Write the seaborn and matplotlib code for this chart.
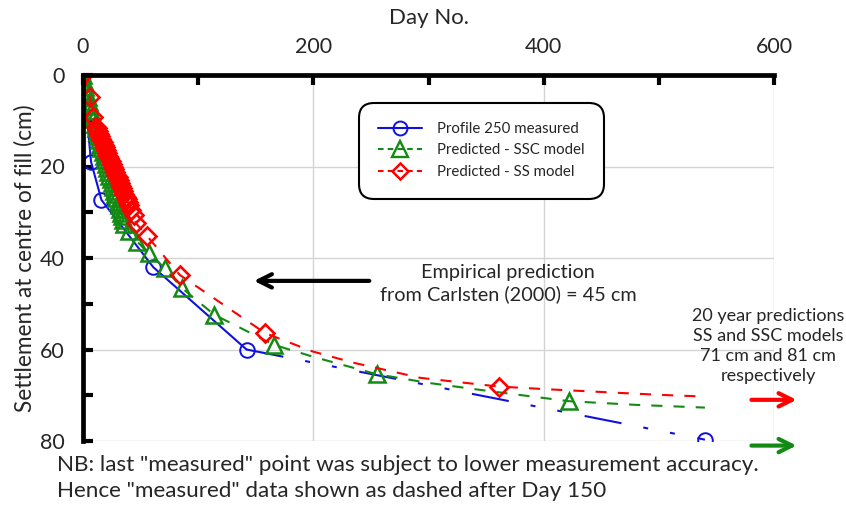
import matplotlib
matplotlib.use("Agg")
import matplotlib.pyplot as plt
from matplotlib.lines import Line2D
import seaborn as sns

# ---------------- data ----------------
meas_day = [0, 7, 16, 61, 142, 540]
meas_cm = [0.0, 19.0, 27.3, 42.0, 60.0, 79.7]

# SSC model: points drawn with triangles
ssc_mark_day = [0, 1, 2, 3, 4, 5, 6, 7, 8, 9, 10, 11, 12, 13, 14, 15, 16, 17, 18,
                19, 20, 21, 22, 23, 24, 25, 26, 27, 28, 29, 30, 31, 32, 33, 34, 35, 36,
                40, 47, 57, 71, 86, 114, 166, 255, 422]
ssc_mark_cm = [0.0, 1.4, 2.6, 3.7, 4.8, 5.8, 6.8, 7.8, 8.8, 9.7, 10.7, 11.6, 12.5, 13.4,
               14.3, 15.2, 16.0, 16.9, 17.7, 18.6, 19.4, 20.3, 21.1, 22.0, 22.8, 23.6,
               24.4, 25.3, 26.1, 26.9, 27.7, 28.5, 29.3, 30.1, 30.9, 31.7, 32.5,
               34.2, 36.4, 39.0, 42.2, 46.6, 52.4, 59.0, 65.4, 71.3]
# SSC model: further curve points without markers
ssc_tail_day = [200, 300, 350, 480, 540]
ssc_tail_cm = [61.6, 67.3, 69.0, 72.1, 72.7]

# SS model: points drawn with diamonds
ss_mark_day = [0, 6, 9, 11.5, 12, 13, 14, 15, 16, 17, 18, 19, 20, 21, 22, 23, 24, 25,
               26, 27, 28, 29, 30, 31, 32, 33, 34, 35, 36, 37, 38, 39, 40, 42, 44,
               46, 56, 84, 158, 361]
ss_mark_cm = [0.0, 4.8, 9.2, 11.3, 11.6, 12.2, 12.8, 13.4, 14.0, 14.6, 15.2, 15.8, 16.4,
              17.0, 17.6, 18.2, 18.8, 19.4, 20.0, 20.6, 21.2, 21.8, 22.4, 23.0, 23.6,
              24.2, 24.8, 25.4, 26.0, 26.6, 27.2, 27.8, 28.4, 29.5, 30.6,
              32.4, 35.3, 43.7, 56.4, 68.1]
ss_tail_day = [199, 235, 293, 325, 404, 459, 500, 540]
ss_tail_cm = [60.4, 62.9, 66.2, 67.1, 68.7, 69.4, 69.9, 70.3]

legend_labels = ["Profile 250 measured", "Predicted - SSC model", "Predicted - SS model"]
x_ticks = [0, 200, 400, 600]
y_ticks = [0, 20, 40, 60, 80]

BLUE = "#1010e0"
GREEN = "#138a13"
RED = "#ff0000"

# ---------------- style ----------------
sns.set_theme(style="white")
plt.rcParams["font.family"] = ["Lato", "DejaVu Sans"]
plt.rcParams["lines.scale_dashes"] = False

W, H = 846, 509
fig = plt.figure(figsize=(W / 100, H / 100), dpi=100)
ax = fig.add_axes([83 / W, 1 - 441 / H, (774 - 83) / W, (441 - 75) / H])

LW = 1.5
SSC_DASH = (0, (8, 8))
SS_DASH = (0, (8, 8))
MEAS_DASH = (0, (27, 16, 3.6, 16, 3.6, 16.5))

# measured: solid to day 142, then long-dash / dot pattern
sns.lineplot(x=meas_day[:5], y=meas_cm[:5], ax=ax, color=BLUE, linewidth=LW,
             linestyle="-", sort=False, estimator=None, zorder=3)
sns.lineplot(x=meas_day[4:], y=meas_cm[4:], ax=ax, color=BLUE, linewidth=LW,
             linestyle=MEAS_DASH, sort=False, estimator=None, zorder=3)
sns.lineplot(x=meas_day, y=meas_cm, ax=ax, color=BLUE, linestyle="", marker="o",
             markersize=10.5, markerfacecolor="none", markeredgecolor=BLUE,
             markeredgewidth=1.4, sort=False, estimator=None, zorder=3)

# SSC
ssc_line_day = ssc_mark_day + ssc_tail_day
ssc_line_cm = ssc_mark_cm + ssc_tail_cm
sns.lineplot(x=ssc_line_day, y=ssc_line_cm, ax=ax, color=GREEN, linewidth=LW,
             linestyle=SSC_DASH, sort=True, estimator=None, zorder=4)
sns.lineplot(x=ssc_mark_day, y=ssc_mark_cm, ax=ax, color=GREEN, linestyle="",
             marker="^", markersize=12, markerfacecolor="none",
             markeredgecolor=GREEN, markeredgewidth=1.8, sort=False,
             estimator=None, zorder=4)

# SS
ss_line_day = ss_mark_day + ss_tail_day
ss_line_cm = ss_mark_cm + ss_tail_cm
sns.lineplot(x=ss_line_day, y=ss_line_cm, ax=ax, color=RED, linewidth=LW,
             linestyle=SS_DASH, sort=True, estimator=None, zorder=5)
sns.lineplot(x=ss_mark_day, y=ss_mark_cm, ax=ax, color=RED, linestyle="",
             marker="D", markersize=9.5, markerfacecolor="none",
             markeredgecolor=RED, markeredgewidth=1.9, sort=False,
             estimator=None, zorder=5)

# ---------------- axes ----------------
ax.set_xlim(0, 600)
ax.set_ylim(80, 0)
ax.xaxis.set_ticks_position("top")
ax.xaxis.set_label_position("top")
ax.set_xticks(x_ticks)
ax.set_xticks([100, 300, 500], minor=True)
ax.set_yticks(y_ticks)
ax.set_yticks([10, 30, 50, 70], minor=True)
ax.set_xticklabels([str(v) for v in x_ticks])
ax.set_yticklabels([str(v) for v in y_ticks])
ax.tick_params(axis="x", which="both", direction="in", length=7, width=3,
               color="black", labelsize=15.5, pad=13, top=True, bottom=False)
ax.tick_params(axis="y", which="both", direction="in", length=7, width=3,
               color="black", labelsize=15.5, pad=13, left=True, right=False)
ax.set_xlabel("Day No.", fontsize=16, labelpad=9)
ax.set_ylabel("Settlement at centre of fill (cm)", fontsize=16.3, labelpad=3)

ax.grid(True, which="major", color="#d4d4d4", linewidth=1.0)
ax.set_axisbelow(True)
for side in ["right", "bottom"]:
    ax.spines[side].set_visible(False)
for side in ["left", "top"]:
    ax.spines[side].set_visible(True)
    ax.spines[side].set_color("black")
    ax.spines[side].set_linewidth(3.4)
    ax.spines[side].set_zorder(6)

# ---------------- legend ----------------
handles = [
    Line2D([], [], color=BLUE, lw=LW, marker="o", markersize=10,
           markerfacecolor="none", markeredgecolor=BLUE, markeredgewidth=1.4),
    Line2D([], [], color=GREEN, lw=LW, linestyle=(0, (4, 3)), marker="^", markersize=11,
           markerfacecolor="none", markeredgecolor=GREEN, markeredgewidth=1.7),
    Line2D([], [], color=RED, lw=LW, linestyle=(0, (4, 3)), marker="D", markersize=8.5,
           markerfacecolor="none", markeredgecolor=RED, markeredgewidth=1.8),
]
leg = ax.legend(handles, legend_labels, loc="upper left",
                bbox_to_anchor=(357 / W, 1 - 101 / H), bbox_transform=fig.transFigure,
                fontsize=10.8, frameon=True, fancybox=True, framealpha=1,
                edgecolor="black", handlelength=2.9, labelspacing=0.5,
                borderpad=0.9, handletextpad=1.0)
leg.get_frame().set_linewidth(1.5)
leg.get_frame().set_boxstyle("round", pad=0.4, rounding_size=1.0)
leg.set_zorder(10)

# ---------------- annotations ----------------
ax.annotate("", xy=(146, 45), xytext=(251, 45),
            arrowprops=dict(arrowstyle="->", color="black", lw=3.0,
                            mutation_scale=24))
ax.text(369, 45.6, "Empirical prediction\nfrom Carlsten (2000) = 45 cm",
        ha="center", va="center", fontsize=14.3, linespacing=1.33)

ax.text(595, 59.3, "20 year predictions\nSS and SSC models\n71 cm and 81 cm\nrespectively",
        ha="center", va="center", fontsize=13, linespacing=1.3, clip_on=False)
ax.annotate("", xy=(622, 71.0), xytext=(578, 71.0), annotation_clip=False,
            arrowprops=dict(arrowstyle="->", color=RED, lw=3.0, mutation_scale=24))
ax.annotate("", xy=(622, 81.0), xytext=(578, 81.0), annotation_clip=False,
            arrowprops=dict(arrowstyle="->", color=GREEN, lw=3.0, mutation_scale=24))

fig.text(57 / W, 1 - 465 / H,
         'NB: last "measured" point was subject to lower measurement accuracy.',
         ha="left", va="center", fontsize=16.2)
fig.text(57 / W, 1 - 491 / H,
         'Hence "measured" data shown as dashed after Day 150',
         ha="left", va="center", fontsize=16.2)

fig.savefig("out.png", dpi=100)
